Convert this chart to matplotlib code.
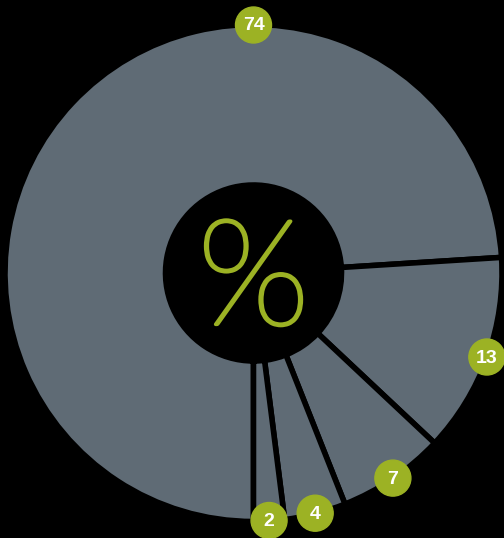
import numpy as np
import matplotlib.pyplot as plt
import matplotlib.patheffects as pe
from matplotlib.patches import Circle

# valores de cada porción (en %)
valores = [74, 13, 7, 4, 2]
etiquetas = ["74", "13", "7", "4", "2"]

gris = "#5f6b75"
verde = "#9cb224"

fig = plt.figure(figsize=(5.04, 5.38), dpi=100, facecolor="black")
ax = fig.add_axes([0, 0, 1, 1])
ax.set_facecolor("black")

cx, cy = 253.5, 265
r_ext = 248.5
r_int = 88

wedges, _ = ax.pie(valores, center=(cx, cy), radius=r_ext, startangle=-90,
                   counterclock=False, colors=[gris] * len(valores),
                   wedgeprops=dict(width=r_ext - r_int, edgecolor="black", linewidth=4))
ax.set_xlim(0, 504)
ax.set_ylim(0, 538)
ax.set_aspect("equal")
ax.axis("off")

# hueco central con el signo %
ax.add_patch(Circle((cx, cy), r_int, color="black", zorder=3))
ax.text(cx, cy - 12, "%", color=verde, fontsize=106, fontfamily="Lato", fontweight="light",
        ha="center", va="center", zorder=4,
        path_effects=[pe.Stroke(linewidth=2.6, foreground=verde), pe.Normal()])

# etiquetas en circulos verdes
for i, w in enumerate(wedges):
    if i == 0:
        ang = 90.0
    else:
        ang = (w.theta1 + w.theta2) / 2
    x = cx + 248 * np.cos(np.radians(ang))
    y = cy + 248 * np.sin(np.radians(ang))
    ax.add_patch(Circle((x, y), 18, color=verde, zorder=5, clip_on=False))
    ax.text(x, y - 1, etiquetas[i], color="white", fontsize=14, fontweight="bold",
            fontfamily="Liberation Sans", ha="center", va="center", zorder=6)

fig.savefig("out.png", dpi=100, facecolor="black")
